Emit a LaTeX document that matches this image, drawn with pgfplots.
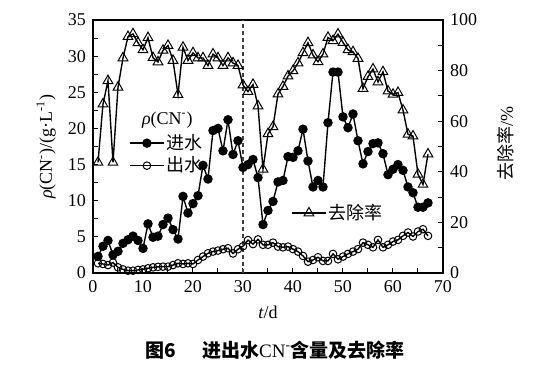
\documentclass[border=0pt]{standalone}
\usepackage{fontspec}
\setmainfont{Liberation Serif}
\newfontfamily\cjk{Noto Sans CJK SC}
\usepackage{pgfplots}
\pgfplotsset{compat=1.18}
\usepackage{pgfplotstable}
\newcommand\fs{\fontsize{9}{10.5}\selectfont}

\pgfplotstableread{
day in out rate
1 2.3 1.34 43.7
2 3.7 1.25 66.8
3 4.5 1.1 76
4 2.5 1.44 43.7
5 3.0 0.78 73.4
6 4.1 0.5 85
7 4.6 0.32 93.4
8 5.1 0.32 94.5
9 4.5 0.42 91
10 3.4 0.5 88.2
11 6.8 0.65 93
12 4.95 0.78 85.1
13 5.1 0.85 83.4
14 6.7 0.88 88
15 7.6 0.88 89.9
16 6.0 1.1 84
17 4.7 1.34 70.5
18 10.6 1.25 89.2
19 8.3 1.34 84
20 9.6 1.25 87
21 10.7 1.8 85
22 14.9 2.27 85
23 13.0 2.73 82
24 19.7 2.96 86.5
25 20.0 3.1 85
26 16.9 3.29 82
27 21.2 3.43 85
28 16.4 2.7 83
29 18.3 3.29 82
30 14.6 3.7 74.3
31 15.0 4.55 71.7
32 15.7 4.0 74.5
33 13.2 4.65 66
34 6.7 3.9 41
35 8.65 3.9 55
36 9.9 4.2 57.8
37 12.6 3.65 70.7
38 12.8 3.55 73.7
39 16.1 3.65 77.8
40 16.0 3.3 79.9
41 16.9 2.96 83
42 19.9 2.36 87
43 15.5 1.57 91
44 11.9 1.8 86.1
45 12.8 2.18 83.5
46 11.9 1.67 86.5
47 20.8 1.67 93.1
48 27.8 2.64 91.8
49 27.8 1.9 94.4
50 21.6 2.27 91.1
51 20.1 2.64 88.2
52 22.0 2.96 87.4
53 18.3 3.3 84.8
54 15.1 4.2 72.9
55 16.8 3.9 77.6
56 17.9 3.55 80.6
57 18.0 4.58 75.5
58 16.5 3.55 79.5
59 13.6 3.9 71.9
60 14.35 4.35 70.6
61 15.0 4.58 71.3
62 14.2 5.14 64.4
63 11.9 5.6 54.8
64 11.1 5.05 54.1
65 9.1 5.74 39
66 9.1 6.06 35
67 9.7 5.14 47
}\datatable

\pgfplotsset{
  common/.style={
    scale only axis, width=175pt, height=126.5pt,
    xmin=0, xmax=70,
    tick align=inside,
    major tick length=2.5pt, minor tick length=2.5pt,
    every tick/.style={black, line width=0.5pt},
    axis line style={line width=0.6pt},
    /pgf/number format/assume math mode=true,
    ticklabel style={font=\fs},
    label style={font=\fs},
  }
}

\begin{document}
\begin{tikzpicture}
\useasboundingbox (-46.5pt,-46pt) rectangle (230.5pt,136.5pt);
\begin{axis}[common,
  ymin=0, ymax=35,
  xtick={0,10,...,70}, minor xtick={5,15,...,65},
  ytick={0,5,...,35}, minor ytick={2.5,7.5,...,32.5},
  xtick pos=left, ytick pos=left,
  xlabel={\textit{t}/d},
  xlabel style={at={(axis description cs:0.5,-0.154)}, anchor=center},
  ylabel={\textit{ρ}(CN\textsuperscript{-})/(g·L\textsuperscript{-1})},
  ylabel style={at={(axis description cs:-0.134,0.5)}, anchor=center},
  legend style={at={(axis description cs:0.085,0.575)}, anchor=north west,
    draw=none, fill=none, font=\cjk\fs, row sep=0pt,
    nodes={inner sep=1.1pt}},
  legend cell align=left,
]
\addplot[black, line width=0.7pt, mark=*, mark size=2pt, mark options={fill=black}]
  table[x=day, y=in] {\datatable};
\addlegendentry{进水}
\addplot[black, line width=0.7pt, mark=o, mark size=1.9pt, mark options={fill=white, line width=0.5pt}]
  table[x=day, y=out] {\datatable};
\addlegendentry{出水}
\addplot[black!75, line width=0.6pt, dash pattern=on 2pt off 1.5pt, forget plot]
  coordinates {(30,0) (30,35)};
\node[anchor=west, font=\fs] at (axis description cs:0.12,0.605) {\textit{ρ}(CN\textsuperscript{-})};
\end{axis}
\begin{axis}[common,
  ymin=0, ymax=100,
  axis x line=none, axis y line*=right,
  ytick={0,20,...,100}, minor ytick={10,30,...,90},
  ylabel={\cjk 去除率\normalfont/\%},
  ylabel style={at={(axis description cs:1.18,0.51)}, anchor=center},
  legend style={at={(axis description cs:0.548,0.237)}, anchor=west,
    draw=none, fill=none, font=\cjk\fs, nodes={inner sep=1.1pt}},
]
\addplot[black, line width=0.7pt, mark=triangle, mark size=2.8pt, mark options={fill=white, line width=0.5pt}]
  table[x=day, y=rate] {\datatable};
\addlegendentry{去除率}
\end{axis}
\node[font=\fontsize{9.5}{11}\selectfont] at (91pt,-38.5pt) {{\cjk\bfseries 图6}\hspace{1.4em}{\cjk\bfseries 进出水}CN\textsuperscript{-}{\cjk\bfseries 含量及去除率}};
\end{tikzpicture}
\end{document}
